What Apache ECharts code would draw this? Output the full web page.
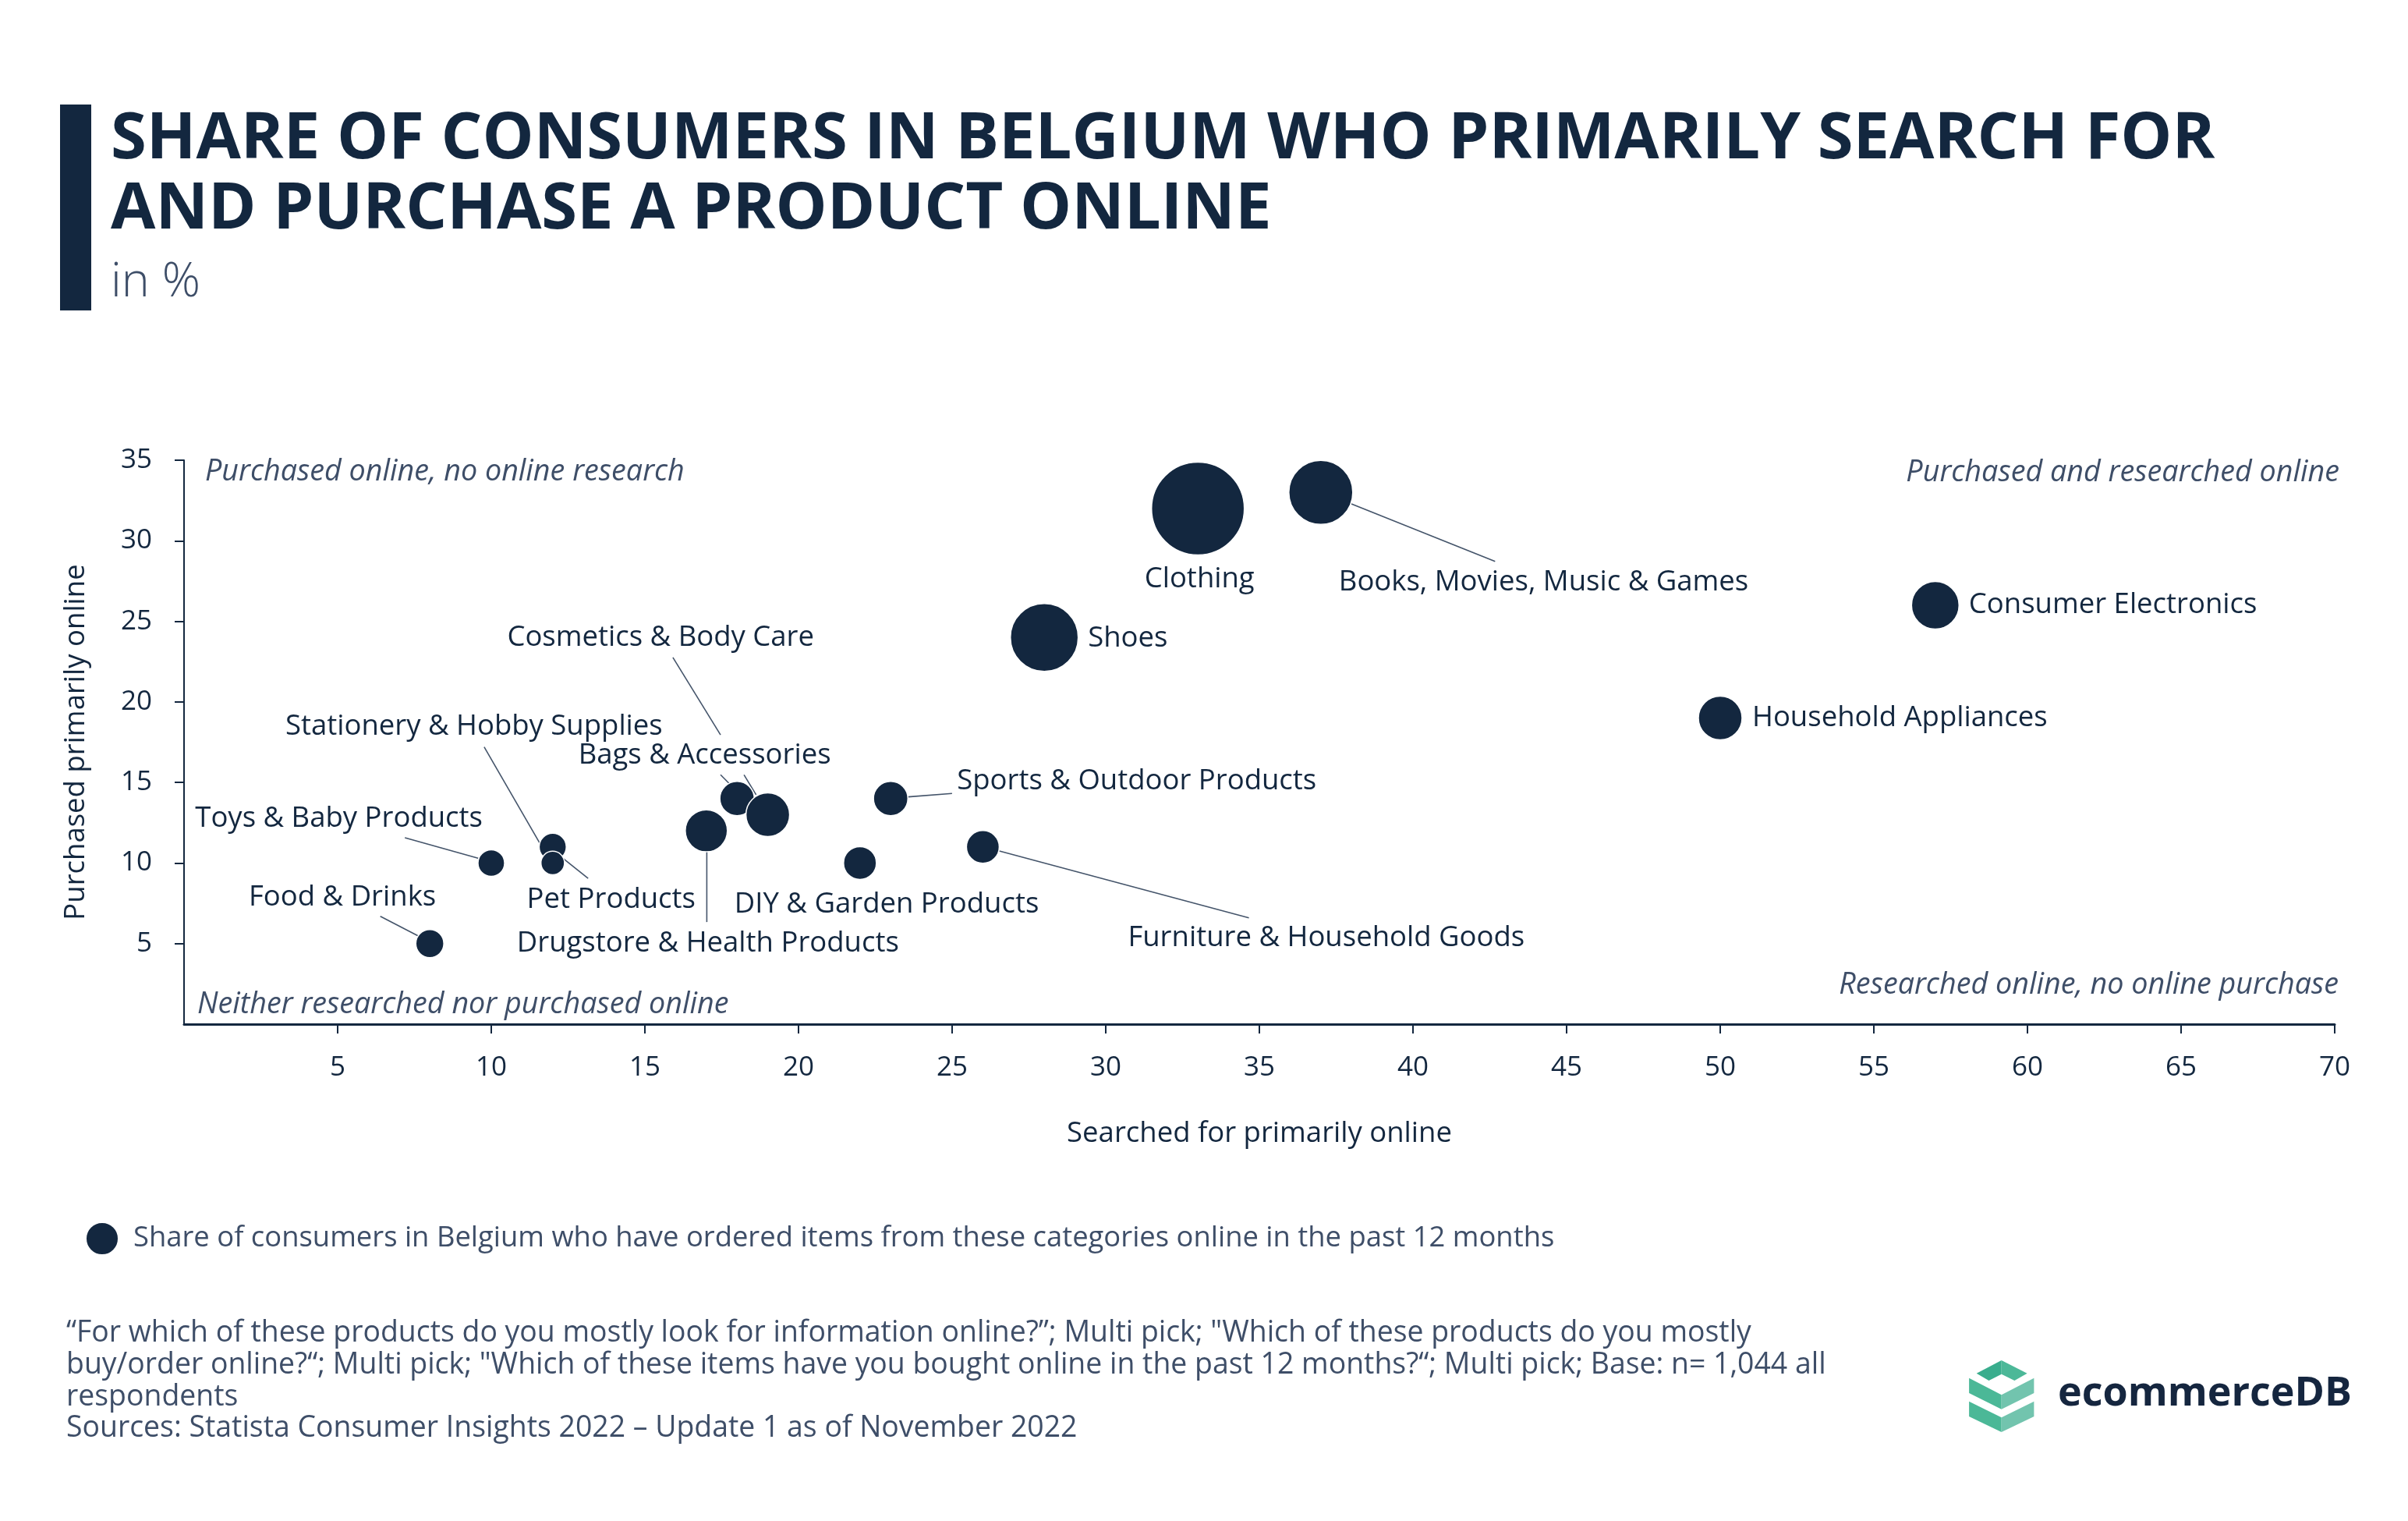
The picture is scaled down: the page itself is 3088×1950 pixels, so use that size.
<!DOCTYPE html>
<html><head><meta charset="utf-8">
<script src="https://cdn.jsdelivr.net/npm/echarts@6/dist/echarts.min.js"></script>
<style>html,body{margin:0;padding:0;background:#fff}#c{width:3088px;height:1950px}</style>
</head><body><div id="c"></div>
<script>
// ---------- data ----------
const categories = ['Food & Drinks','Toys & Baby Products','Stationery & Hobby Supplies','Pet Products','Drugstore & Health Products','Cosmetics & Body Care','Bags & Accessories','DIY & Garden Products','Sports & Outdoor Products','Furniture & Household Goods','Shoes','Clothing','Books, Movies, Music & Games','Household Appliances','Consumer Electronics'];
const searchedOnline  = [8, 10, 12, 12, 17, 18, 19, 22, 23, 26, 28, 33, 37, 50, 57];
const purchasedOnline = [5, 10, 11, 10, 12, 14, 13, 10, 14, 11, 24, 32, 33, 19, 26];
const orderedOnline12m = [5.1, 4.6, 4.8, 3.6, 11.5, 7.7, 12.4, 7.0, 7.7, 7.0, 29.9, 56, 26.6, 12.4, 14.7];
const legendName = 'Share of consumers in Belgium who have ordered items from these categories online in the past 12 months';

// ---------- layout (px offsets from bubble centre) ----------
const labelPlacement = [
  [8, -59, 'right'], [-11, -57, 'right'], [-101, -154, 'center'], [75, 47, 'center'],
  [2, 144, 'center'], [-98, -206, 'center'], [-81, -76, 'center'], [-161, 53, 'left'],
  [85, -22, 'left'], [186, 117, 'left'], [56, 1, 'left'], [2, 91, 'center'],
  [23, 115, 'left'], [41, 0, 'left'], [43, 0, 'left']
];
const leaderLines = [
  [[-63.5,-34.9,-7.5,-5.9]],
  [[-110.8,-32.4,-16.1,-5.9]],
  [[-87.9,-128.1,-14.2,-0.6]],
  [[45.4,19.6,10.3,-8.4]],
  [[0.6,25.2,0.6,117]],
  [[-82.3,-181,-21.2,-81.6],[-21.2,-30.5,-8.6,-17.8]],
  [[-30.5,-51.1,-15,-25.6]],
  [],
  [[22.5,-2.2,78.7,-6.6]],
  [[21.1,5.2,341.2,90.9]],
  [], [],
  [[39.2,14.8,223.5,88.5]],
  [], []
];

const NAVY = '#13273f';
const GREY = '#3e4e68';
const FONT = 'Open Sans';
const MAXD = 119, MAXV = 56;

const chart = echarts.init(document.getElementById('c'), null, {renderer: 'canvas'});

const footnote = '\u201CFor which of these products do you mostly look for information online?\u201D; Multi pick; "Which of these products do you mostly\n' +
  'buy/order online?\u201C; Multi pick; "Which of these items have you bought online in the past 12 months?\u201C; Multi pick; Base: n= 1,044 all\n' +
  'respondents\n' +
  'Sources: Statista Consumer Insights 2022 \u2013 Update 1 as of November 2022';

function txt(x, y, text, style) {
  return {type: 'text', x: x, y: y, silent: true, style: Object.assign({text: text, fontFamily: FONT}, style)};
}

const option = {
  animation: false,
  backgroundColor: '#ffffff',
  textStyle: {fontFamily: FONT},
  grid: {left: 236, right: 94, top: 590, bottom: 637, containLabel: false, outerBoundsMode: 'none'},
  xAxis: {
    type: 'value', min: 0, max: 70, interval: 5,
    name: 'Searched for primarily online', nameLocation: 'middle', nameGap: 122,
    nameTextStyle: {color: NAVY, fontSize: 36.5, fontFamily: FONT},
    axisLine: {show: true, onZero: false, lineStyle: {color: NAVY, width: 3}},
    axisTick: {show: true, length: 12, lineStyle: {color: NAVY, width: 2}},
    axisLabel: {color: NAVY, fontSize: 35, margin: 39, fontFamily: FONT, showMinLabel: false},
    splitLine: {show: false}
  },
  yAxis: {
    type: 'value', min: 0, max: 35, interval: 5,
    name: 'Purchased primarily online', nameLocation: 'middle', nameGap: 120,
    nameTextStyle: {color: NAVY, fontSize: 36.5, fontFamily: FONT},
    axisLine: {show: true, onZero: false, lineStyle: {color: NAVY, width: 2}},
    axisTick: {show: true, length: 12, lineStyle: {color: NAVY, width: 2}},
    axisLabel: {color: NAVY, fontSize: 35, margin: 41, fontFamily: FONT, showMinLabel: false},
    splitLine: {show: false}
  },
  legend: {
    show: true, left: 104, top: 1561, orient: 'horizontal',
    icon: 'circle', itemWidth: 42, itemHeight: 42,
    textStyle: {color: GREY, fontSize: 36.4, fontFamily: FONT, padding: [0, 0, 0, 14]},
    data: [legendName], selectedMode: false
  },
  series: [
    {
      type: 'custom', coordinateSystem: 'cartesian2d', z: 1, silent: true,
      data: categories.map((c, i) => [searchedOnline[i], purchasedOnline[i], i]),
      renderItem: function (params, api) {
        const i = api.value(2);
        const p = api.coord([api.value(0), api.value(1)]);
        return {
          type: 'group',
          children: leaderLines[i].map(s => ({
            type: 'line',
            shape: {x1: p[0] + s[0], y1: p[1] + s[1], x2: p[0] + s[2], y2: p[1] + s[3]},
            style: {stroke: '#44546a', lineWidth: 1.6}
          }))
        };
      }
    },
    {
      name: legendName,
      type: 'scatter', z: 2,
      data: categories.map((c, i) => [searchedOnline[i], purchasedOnline[i], orderedOnline12m[i], c]),
      symbolSize: v => MAXD * Math.sqrt(v[2] / MAXV),
      itemStyle: {color: NAVY, borderColor: '#ffffff', borderWidth: 1.5, opacity: 1},
      label: {show: true, position: 'inside', formatter: p => p.data[3], color: NAVY, fontSize: 36.5, fontFamily: FONT},
      labelLayout: function (params) {
        const i = params.dataIndex;
        const r = params.rect;
        const cx = r.x + r.width / 2, cy = r.y + r.height / 2;
        const L = labelPlacement[i];
        return {x: cx + L[0], y: cy + L[1], align: L[2], verticalAlign: 'middle'};
      },
      emphasis: {disabled: true}
    }
  ],
  graphic: [
    {type: 'rect', shape: {x: 77, y: 134, width: 40, height: 264}, style: {fill: NAVY}, silent: true},
    txt(142, 179, 'SHARE OF CONSUMERS IN BELGIUM WHO PRIMARILY SEARCH FOR', {fill: NAVY, fontSize: 83.2, fontWeight: 'bold', verticalAlign: 'middle'}),
    txt(142, 269, 'AND PURCHASE A PRODUCT ONLINE', {fill: NAVY, fontSize: 83.2, fontWeight: 'bold', verticalAlign: 'middle'}),
    txt(142, 363, 'in %', {fill: GREY, fontSize: 61, fontWeight: 300, verticalAlign: 'middle'}),
    txt(263, 605, 'Purchased online, no online research', {fill: GREY, fontSize: 37.7, fontStyle: 'italic', verticalAlign: 'middle'}),
    txt(253, 1288, 'Neither researched nor purchased online', {fill: GREY, fontSize: 37.7, fontStyle: 'italic', verticalAlign: 'middle'}),
    txt(3000, 606, 'Purchased and researched online', {fill: GREY, fontSize: 37.7, fontStyle: 'italic', verticalAlign: 'middle', align: 'right'}),
    txt(2999, 1263, 'Researched online, no online purchase', {fill: GREY, fontSize: 37.7, fontStyle: 'italic', verticalAlign: 'middle', align: 'right'}),
    txt(85, 1689, footnote, {fill: GREY, fontSize: 37.4, lineHeight: 40.8, verticalAlign: 'top'}),
    // logo
    {type: 'polygon', silent: true, shape: {points: [[2534.7,1760.7],[2566.7,1744],[2566.7,1761.7],[2550.5,1770]]}, style: {fill: '#39ad8d'}},
    {type: 'polygon', silent: true, shape: {points: [[2566.7,1744],[2599.6,1760.7],[2583.4,1770],[2566.7,1761.7]]}, style: {fill: '#4cb898'}},
    {type: 'polygon', silent: true, shape: {points: [[2525.1,1766.7],[2566.7,1788.3],[2566.7,1806.7],[2525.1,1786]]}, style: {fill: '#4bb897'}},
    {type: 'polygon', silent: true, shape: {points: [[2566.7,1788.3],[2608.4,1766.7],[2608.4,1786],[2566.7,1806.7]]}, style: {fill: '#72c4ae'}},
    {type: 'polygon', silent: true, shape: {points: [[2525.1,1796.7],[2566.7,1817.3],[2566.7,1836],[2525.1,1816]]}, style: {fill: '#4bb897'}},
    {type: 'polygon', silent: true, shape: {points: [[2566.7,1817.3],[2608.4,1796.7],[2608.4,1816],[2566.7,1836]]}, style: {fill: '#72c4ae'}},
    txt(2639, 1787, 'ecommerceDB', {fill: '#15263f', fontSize: 52, fontWeight: 'bold', verticalAlign: 'middle'})
  ]
};
chart.setOption(option);
</script>
</body></html>
